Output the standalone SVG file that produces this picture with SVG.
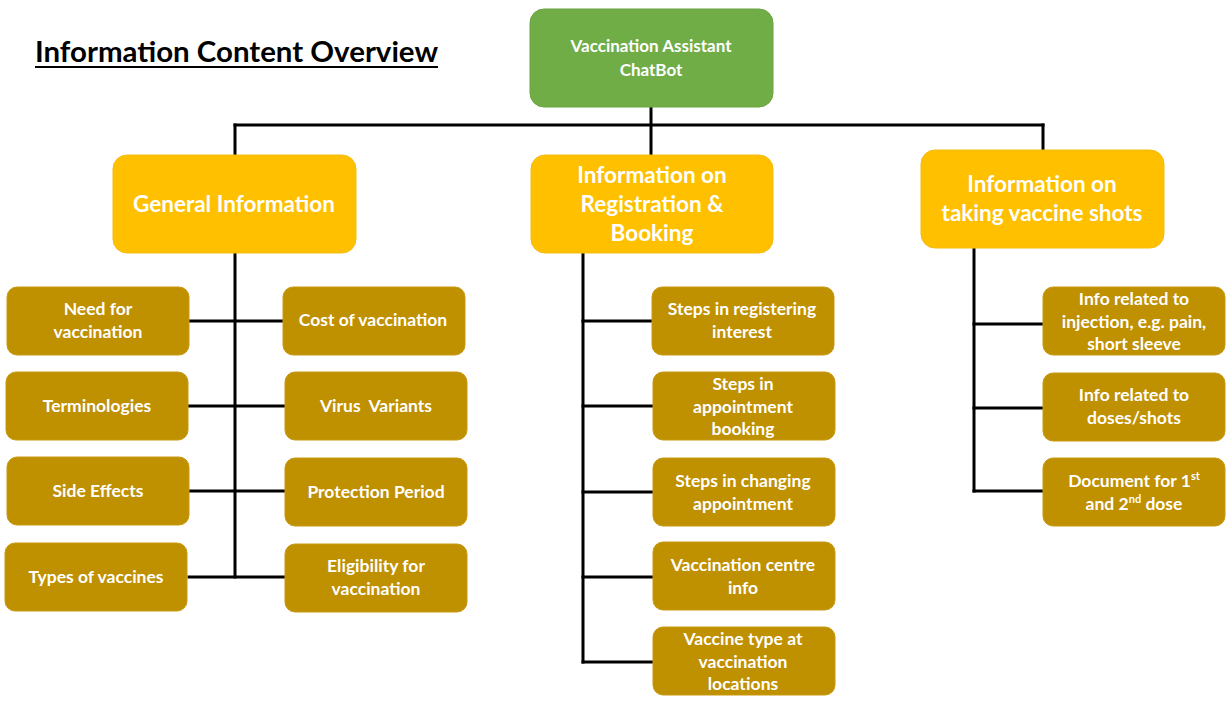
<svg xmlns="http://www.w3.org/2000/svg" width="1229" height="704" viewBox="0 0 1229 704">
<style>
.root{fill:#70AD47;stroke:#6aa343;stroke-width:1}
.l2{fill:#FFC000;stroke:#f5bb10;stroke-width:1}
.l3{fill:#BF9000;stroke:#c99a10;stroke-width:1}
text{font-family:Lato,"Open Sans","Liberation Sans",sans-serif;font-weight:700;fill:#fff;text-anchor:middle}
.t2{font-size:22.5px}
.t3{font-size:17.5px}
.t1{font-size:17px}
.title{fill:#000;text-anchor:start;font-size:29px}
.c line{stroke:#000;stroke-width:3;stroke-linecap:square}
.sup{font-size:11px}
.pre{white-space:pre}
</style>
<rect width="1229" height="704" fill="#fff"/>
<g id="title">
<text class="title" x="35" y="62" textLength="403" lengthAdjust="spacingAndGlyphs">Information Content Overview</text>
<line x1="35" y1="67" x2="438" y2="67" stroke="#000" stroke-width="2"/>
</g>
<g class="c" id="connectors">
<line x1="651" y1="107" x2="651" y2="155"/>
<line x1="235" y1="125" x2="1043" y2="125"/>
<line x1="235" y1="125" x2="235" y2="155"/>
<line x1="1043" y1="125" x2="1043" y2="150"/>
<line x1="235" y1="253" x2="235" y2="577"/>
<line x1="189" y1="321" x2="283" y2="321"/>
<line x1="189" y1="406" x2="285" y2="406"/>
<line x1="189" y1="491" x2="285" y2="491"/>
<line x1="189" y1="577" x2="285" y2="577"/>
<line x1="583" y1="253" x2="583" y2="662"/>
<line x1="583" y1="321" x2="652" y2="321"/>
<line x1="583" y1="406" x2="652" y2="406"/>
<line x1="583" y1="492" x2="652" y2="492"/>
<line x1="583" y1="577" x2="652" y2="577"/>
<line x1="583" y1="662" x2="652" y2="662"/>
<line x1="974" y1="248" x2="974" y2="491"/>
<line x1="974" y1="324" x2="1043" y2="324"/>
<line x1="974" y1="408" x2="1043" y2="408"/>
<line x1="974" y1="491" x2="1043" y2="491"/>
</g>
<g id="root"><rect class="root" x="530" y="9" width="243" height="98" rx="14"/>
<text class="t1" x="651" y="52">Vaccination Assistant</text><text class="t1" x="651" y="76">ChatBot</text></g>
<g id="general"><rect class="l2" x="113" y="155" width="243" height="98" rx="14"/>
<text class="t2" x="234" y="212">General Information</text></g>
<g id="registration"><rect class="l2" x="531" y="155" width="242" height="98" rx="14"/>
<text class="t2" x="652" y="183">Information on</text><text class="t2" x="652" y="212">Registration &amp;</text><text class="t2" x="652" y="241">Booking</text></g>
<g id="shots"><rect class="l2" x="921" y="150" width="243" height="98" rx="14"/>
<text class="t2" x="1042" y="192">Information on</text><text class="t2" x="1042" y="221">taking vaccine shots</text></g>

<g id="need"><rect class="l3" x="7" y="287" width="182" height="68" rx="10"/>
<text class="t3" x="98" y="315">Need for</text><text class="t3" x="98" y="338">vaccination</text></g>
<g id="terms"><rect class="l3" x="6" y="372" width="182" height="68" rx="10"/>
<text class="t3" x="97" y="412">Terminologies</text></g>
<g id="side"><rect class="l3" x="7" y="457" width="182" height="68" rx="10"/>
<text class="t3" x="98" y="497">Side Effects</text></g>
<g id="types"><rect class="l3" x="5" y="543" width="182" height="68" rx="10"/>
<text class="t3" x="96" y="583">Types of vaccines</text></g>
<g id="cost"><rect class="l3" x="283" y="287" width="182" height="68" rx="10"/>
<text class="t3" x="373" y="326">Cost of vaccination</text></g>
<g id="virus"><rect class="l3" x="285" y="372" width="182" height="68" rx="10"/>
<text class="t3 pre" x="376" y="412">Virus  Variants</text></g>
<g id="protection"><rect class="l3" x="285" y="458" width="182" height="68" rx="10"/>
<text class="t3" x="376" y="498">Protection Period</text></g>
<g id="eligibility"><rect class="l3" x="285" y="544" width="182" height="68" rx="10"/>
<text class="t3" x="376" y="572">Eligibility for</text><text class="t3" x="376" y="595">vaccination</text></g>

<g id="reg1"><rect class="l3" x="652" y="287" width="182" height="68" rx="10"/>
<text class="t3" x="742" y="315">Steps in registering</text><text class="t3" x="742" y="338">interest</text></g>
<g id="reg2"><rect class="l3" x="653" y="372" width="182" height="68" rx="10"/>
<text class="t3" x="743" y="390">Steps in</text><text class="t3" x="743" y="413">appointment</text><text class="t3" x="743" y="435">booking</text></g>
<g id="reg3"><rect class="l3" x="653" y="458" width="182" height="68" rx="10"/>
<text class="t3" x="743" y="487">Steps in changing</text><text class="t3" x="743" y="510">appointment</text></g>
<g id="reg4"><rect class="l3" x="653" y="542" width="182" height="68" rx="10"/>
<text class="t3" x="743" y="571">Vaccination centre</text><text class="t3" x="743" y="594">info</text></g>
<g id="reg5"><rect class="l3" x="653" y="627" width="182" height="68" rx="10"/>
<text class="t3" x="743" y="645">Vaccine type at</text><text class="t3" x="743" y="668">vaccination</text><text class="t3" x="743" y="690">locations</text></g>

<g id="shot1"><rect class="l3" x="1043" y="287" width="182" height="68" rx="10"/>
<text class="t3" x="1134" y="305">Info related to</text><text class="t3" x="1134" y="328">injection, e.g. pain,</text><text class="t3" x="1134" y="350">short sleeve</text></g>
<g id="shot2"><rect class="l3" x="1043" y="373" width="182" height="68" rx="10"/>
<text class="t3" x="1134" y="401">Info related to</text><text class="t3" x="1134" y="424">doses/shots</text></g>
<g id="shot3"><rect class="l3" x="1043" y="458" width="182" height="68" rx="10"/>
<text class="t3" x="1134" y="487">Document for 1<tspan class="sup" dy="-7">st</tspan></text><text class="t3" x="1134" y="510">and 2<tspan class="sup" dy="-7">nd</tspan><tspan dy="7"> dose</tspan></text></g>
</svg>
